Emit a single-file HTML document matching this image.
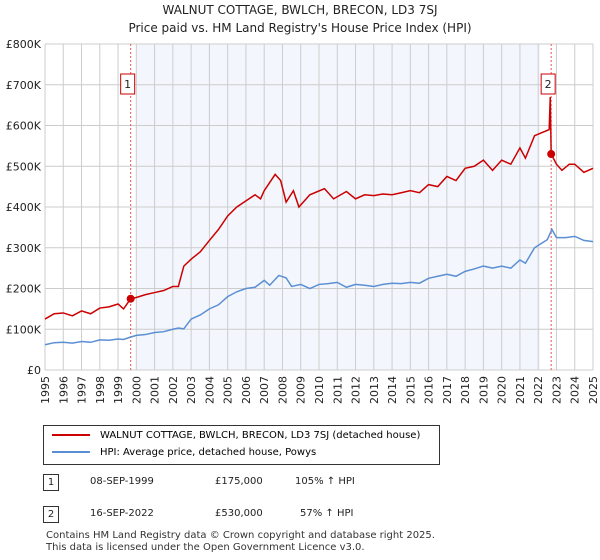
<!DOCTYPE html>
<html><head><meta charset="utf-8"><style>
body{margin:0;background:#fff;font-family:"DejaVu Sans","Liberation Sans",sans-serif;}
#w{position:relative;width:600px;height:560px;overflow:hidden}
.t{position:absolute;font-size:10.5px;color:#222;white-space:nowrap}
</style></head><body><div id="w">
<div class="t" style="left:0;width:600px;text-align:center;top:3px;font-size:12px">WALNUT COTTAGE, BWLCH, BRECON, LD3 7SJ</div>
<div class="t" style="left:0;width:600px;text-align:center;top:21px;font-size:12px">Price paid vs. HM Land Registry's House Price Index (HPI)</div>
<svg id="c" width="600" height="420" style="position:absolute;left:0;top:0;font-family:'DejaVu Sans',sans-serif"></svg>
<div style="position:absolute;left:43px;top:425px;width:397px;height:40px;border:1px solid #333;box-sizing:border-box">
<div style="position:absolute;left:8px;top:4px;font-size:10px;white-space:nowrap"><span style="display:inline-block;width:38px;height:2px;background:#cc0000;vertical-align:middle;margin-right:10px"></span>WALNUT COTTAGE, BWLCH, BRECON, LD3 7SJ (detached house)</div>
<div style="position:absolute;left:8px;top:21px;font-size:10px;white-space:nowrap"><span style="display:inline-block;width:38px;height:2px;background:#5b8fd4;vertical-align:middle;margin-right:10px"></span>HPI: Average price, detached house, Powys</div>
</div>
<div>
<div class="t" style="left:43px;top:474px;width:16px;height:17px;border:1px solid #333;box-sizing:border-box;text-align:center;font-size:10px;line-height:15px">1</div>
<div class="t" style="left:90px;top:476px;font-size:10px">08-SEP-1999</div>
<div class="t" style="left:215px;top:476px;font-size:10px">£175,000</div>
<div class="t" style="left:295px;top:476px;font-size:10px">105% ↑ HPI</div></div>
<div>
<div class="t" style="left:43px;top:506px;width:16px;height:17px;border:1px solid #333;box-sizing:border-box;text-align:center;font-size:10px;line-height:15px">2</div>
<div class="t" style="left:90px;top:508px;font-size:10px">16-SEP-2022</div>
<div class="t" style="left:215px;top:508px;font-size:10px">£530,000</div>
<div class="t" style="left:300px;top:508px;font-size:10px">57% ↑ HPI</div></div>
<div class="t" style="left:46px;top:530px;font-size:10px;line-height:12px;color:#333">Contains HM Land Registry data © Crown copyright and database right 2025.<br>This data is licensed under the Open Government Licence v3.0.</div>
</div>
<script>
const hpiYears=[1995,1995.5,1996,1996.5,1997,1997.5,1998,1998.5,1999,1999.3,1999.7,2000,2000.5,2001,2001.5,2002,2002.3,2002.6,2003,2003.5,2004,2004.5,2005,2005.5,2006,2006.5,2007,2007.3,2007.8,2008.2,2008.5,2009,2009.5,2010,2010.5,2011,2011.5,2012,2012.5,2013,2013.5,2014,2014.5,2015,2015.5,2016,2016.5,2017,2017.5,2018,2018.5,2019,2019.5,2020,2020.5,2021,2021.3,2021.8,2022.5,2022.75,2023,2023.5,2024,2024.5,2025];
const hpiValues=[62,67,68,66,70,68,74,73,76,75,81,85,87,92,94,100,103,101,125,135,150,160,180,192,200,203,220,208,232,226,205,210,200,210,212,215,203,210,208,205,210,213,212,215,213,225,230,235,230,242,248,255,250,255,250,270,262,300,320,345,325,325,328,318,315];
const ppYears=[1995,1995.5,1996,1996.5,1997,1997.5,1998,1998.5,1999,1999.3,1999.69,2000,2000.5,2001,2001.5,2002,2002.3,2002.6,2003,2003.5,2004,2004.5,2005,2005.5,2006,2006.5,2006.8,2007,2007.6,2007.9,2008.2,2008.6,2008.9,2009.5,2010.3,2010.8,2011.5,2012,2012.5,2013,2013.5,2014,2014.5,2015,2015.5,2016,2016.5,2017,2017.5,2018,2018.5,2019,2019.5,2020,2020.5,2021,2021.3,2021.8,2022.6,2022.66,2022.71,2023,2023.3,2023.7,2024,2024.5,2025];
const ppValues=[125,138,140,133,145,138,152,155,162,150,175,178,185,190,195,205,205,255,272,290,318,345,378,400,415,430,420,440,480,465,412,440,400,430,445,420,438,420,430,428,432,430,435,440,435,455,450,475,465,495,500,515,490,515,505,545,520,575,590,670,530,505,490,505,505,485,495];
const yTicks=[0,100,200,300,400,500,600,700,800];
const yTickLabels=["£0","£100K","£200K","£300K","£400K","£500K","£600K","£700K","£800K"];
const xTicks=[1995,1996,1997,1998,1999,2000,2001,2002,2003,2004,2005,2006,2007,2008,2009,2010,2011,2012,2013,2014,2015,2016,2017,2018,2019,2020,2021,2022,2023,2024,2025];
const sales=[[1999.69,175,"1"],[2022.71,530,"2"]];
const X0=45,X1=593,Y0=370,Y1=44;
const x=v=>X0+(v-1995)/30*(X1-X0), y=v=>Y0-v/800*(Y0-Y1);
const s=document.getElementById('c'),N='http://www.w3.org/2000/svg';
function mk(t,a,p){const e=document.createElementNS(N,t);for(const k in a)e.setAttribute(k,a[k]);(p||s).appendChild(e);return e;}
let r=mk('rect',{x:x(2000),y:Y1,width:x(2022.1)-x(2000),height:Y0-Y1,fill:'#eef3fc',opacity:0.7});


xTicks.forEach(v=>{let l=mk('line',{x1:x(v),x2:x(v),y1:Y1,y2:Y0,stroke:'#ccc'});


let t=mk('text',{x:0,y:0,'font-size':11,fill:'#222','text-anchor':'end',transform:`translate(${x(v)+4},${Y0+6}) rotate(-90)`});t.textContent=v;

});
yTicks.forEach((v,i)=>{let l=mk('line',{x1:X0,x2:X1,y1:y(v),y2:y(v),stroke:'#ccc'});


let t=mk('text',{x:X0-4,y:y(v)+4,'font-size':11,fill:'#222','text-anchor':'end'});t.textContent=yTickLabels[i];

});
sales.forEach(d=>{let l=mk('line',{x1:x(d[0]),x2:x(d[0]),y1:Y1,y2:Y0,stroke:'#e55','stroke-dasharray':'2,2'});

});
function line(xs,vs,c,n){let p=mk('polyline',{points:xs.map((a,i)=>x(a)+','+y(vs[i])).join(' '),fill:'none',stroke:c,'stroke-width':1.5});

}
line(hpiYears,hpiValues,'#5b8fd4','hpi-line');
line(ppYears,ppValues,'#cc0000','price-paid-line');
sales.forEach(d=>{let c=mk('circle',{cx:x(d[0]),cy:y(d[1]),r:4,fill:'#cc0000'});


let b=mk('rect',{x:x(d[0])-10,y:74,width:14,height:20,fill:'#fff',stroke:'#cc0000'});


let t=mk('text',{x:x(d[0])-3,y:88,'font-size':11,'text-anchor':'middle',fill:'#222'});t.textContent=d[2];

});
</script></body></html>
